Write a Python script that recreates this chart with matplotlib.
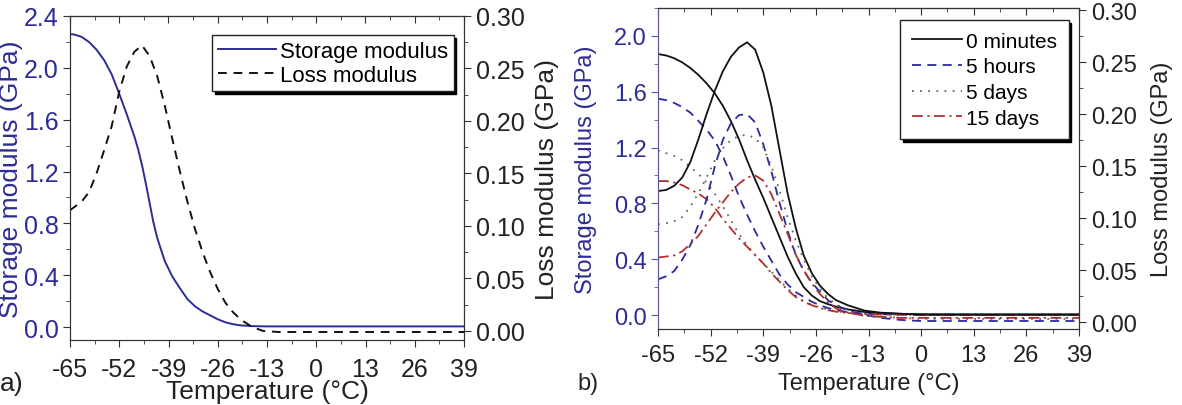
import matplotlib
matplotlib.use('Agg')
import matplotlib.pyplot as plt
from matplotlib.ticker import MultipleLocator, FormatStrFormatter

plt.rcParams['font.family'] = ['Liberation Sans', 'DejaVu Sans']
plt.rcParams['axes.unicode_minus'] = False

# ---- panel a data ----
Ta_sto = [-65, -64, -62, -60, -58, -56, -54, -52, -50, -48, -47, -46, -45, -44, -43,
          -42, -41, -40, -38, -36, -34, -32, -30, -28, -26, -24, -22, -20, -17, -13, 0,
          13, 26, 39]
storage_a = [2.26, 2.258, 2.24, 2.20, 2.14, 2.06, 1.95, 1.80, 1.64, 1.47, 1.37, 1.25,
             1.11, 0.96, 0.81, 0.69, 0.60, 0.51, 0.39, 0.30, 0.215, 0.16, 0.12, 0.09,
             0.06, 0.037, 0.022, 0.013, 0.007, 0.005, 0.005, 0.005, 0.005, 0.005]

Ta_loss = [-65, -62, -60, -58, -56, -54, -52, -50, -48, -46, -44, -42, -40, -38, -36,
           -34, -32, -30, -28, -26, -24, -22, -20, -17, -14, -10, 0, 13, 26, 39]
loss_a = [0.115, 0.123, 0.132, 0.150, 0.172, 0.195, 0.228, 0.252, 0.266, 0.272, 0.262,
          0.243, 0.215, 0.183, 0.152, 0.123, 0.097, 0.075, 0.056, 0.040, 0.027, 0.018,
          0.011, 0.004, 0.000, -0.001, -0.001, -0.001, -0.001, -0.001]

# ---- panel b data ----
Tb = [-65, -63, -61, -59, -57, -55, -53, -51, -49, -47, -45, -43, -41, -39, -37, -35,
      -33, -31, -29, -27, -25, -23, -21, -18, -14, -10, -5, 0, 13, 26, 39]
labels_b = ['0 minutes', '5 hours', '5 days', '15 days']

sto_0min = [1.87, 1.86, 1.84, 1.81, 1.77, 1.72, 1.66, 1.59, 1.50, 1.39, 1.26, 1.11, 0.97,
            0.84, 0.70, 0.56, 0.42, 0.30, 0.20, 0.14, 0.10, 0.078, 0.06, 0.04, 0.022,
            0.013, 0.008, 0.006, 0.005, 0.005, 0.005]
sto_5h = [1.55, 1.54, 1.52, 1.49, 1.45, 1.39, 1.33, 1.25, 1.14, 1.00, 0.85, 0.72, 0.60,
          0.49, 0.39, 0.29, 0.22, 0.165, 0.13, 0.095, 0.07, 0.05, 0.035, 0.02, 0.01,
          0.005, 0.003, 0.002, 0.002, 0.002, 0.002]
sto_5d = [1.18, 1.16, 1.14, 1.11, 1.06, 1.01, 0.95, 0.87, 0.78, 0.68, 0.58, 0.50, 0.43,
          0.37, 0.31, 0.25, 0.19, 0.14, 0.10, 0.075, 0.055, 0.038, 0.027, 0.015, 0.008,
          0.004, 0.002, 0.001, 0.001, 0.001, 0.001]
sto_15d = [0.96, 0.96, 0.95, 0.93, 0.90, 0.87, 0.83, 0.77, 0.69, 0.62, 0.55, 0.49, 0.43,
           0.37, 0.30, 0.24, 0.18, 0.13, 0.095, 0.07, 0.05, 0.035, 0.024, 0.014, 0.008,
           0.005, 0.003, 0.002, 0.002, 0.002, 0.002]

loss_0min = [0.126, 0.127, 0.131, 0.139, 0.154, 0.176, 0.200, 0.222, 0.241, 0.255, 0.264,
             0.269, 0.262, 0.240, 0.208, 0.166, 0.124, 0.091, 0.064, 0.047, 0.035, 0.027,
             0.021, 0.016, 0.011, 0.009, 0.008, 0.007, 0.007, 0.007, 0.007]
loss_5h = [0.041, 0.044, 0.049, 0.060, 0.074, 0.094, 0.118, 0.149, 0.175, 0.191, 0.199,
           0.200, 0.192, 0.171, 0.145, 0.115, 0.088, 0.065, 0.049, 0.038, 0.029, 0.021,
           0.016, 0.011, 0.007, 0.004, 0.002, 0.001, 0.001, 0.001, 0.001]
loss_5d = [0.094, 0.095, 0.097, 0.101, 0.111, 0.124, 0.139, 0.155, 0.167, 0.175, 0.179,
           0.180, 0.177, 0.168, 0.150, 0.127, 0.101, 0.079, 0.060, 0.044, 0.032, 0.023,
           0.017, 0.011, 0.007, 0.005, 0.004, 0.003, 0.003, 0.003, 0.003]
loss_15d = [0.062, 0.063, 0.064, 0.068, 0.075, 0.083, 0.094, 0.105, 0.115, 0.125, 0.133,
            0.139, 0.141, 0.136, 0.123, 0.104, 0.085, 0.065, 0.050, 0.037, 0.027, 0.019,
            0.013, 0.009, 0.006, 0.005, 0.004, 0.004, 0.004, 0.004, 0.004]

xticks = [-65, -52, -39, -26, -13, 0, 13, 26, 39]

BLUE = '#2c2c96'
SPINE = '#333333'

fig = plt.figure(figsize=(11.82, 4.06), dpi=100)


def style_axes(ax, ax2, tsize, left_spine, xpad):
    ax.set_xlim(-65, 39)
    ax.set_xticks(xticks)
    ax.xaxis.set_minor_locator(MultipleLocator(6.5))
    for s in ['top', 'bottom', 'right']:
        ax.spines[s].set_color(SPINE)
        ax2.spines[s].set_color(SPINE)
    ax.spines['left'].set_color(left_spine)
    ax2.spines['left'].set_color(left_spine)
    ax.tick_params(axis='x', which='both', direction='out', colors=SPINE,
                   labelcolor='#222222', labelsize=tsize, pad=xpad)
    ax.tick_params(axis='x', which='major', length=5)
    ax.tick_params(axis='x', which='minor', length=3)
    ax.tick_params(axis='y', which='both', direction='out', colors=left_spine,
                   labelcolor=BLUE, labelsize=tsize, pad=3)
    ax.tick_params(axis='y', which='major', length=5)
    ax.tick_params(axis='y', which='minor', length=3)
    ax2.tick_params(axis='y', which='both', direction='out', colors=SPINE,
                    labelcolor='#222222', labelsize=tsize, pad=4)
    ax2.tick_params(axis='y', which='major', length=5)
    ax2.tick_params(axis='y', which='minor', length=3)
    top = ax.secondary_xaxis('top')
    top.set_xticks(xticks)
    top.xaxis.set_minor_locator(MultipleLocator(6.5))
    top.tick_params(which='both', direction='in', labeltop=False, colors=SPINE)
    top.tick_params(which='major', length=5)
    top.tick_params(which='minor', length=3)
    top.spines['top'].set_color(SPINE)


# ---------------- panel a ----------------
axa = fig.add_axes([70 / 1182, 65 / 406, 394 / 1182, 324 / 406])
axa2 = axa.twinx()
la1, = axa.plot(Ta_sto, storage_a, color=BLUE, lw=1.4, label='Storage modulus')
la2, = axa2.plot(Ta_loss, loss_a, color='#111111', lw=1.4, ls=(0, (4.5, 3.5)),
                 label='Loss modulus')
axa.set_ylim(-0.1, 2.4)
axa.yaxis.set_major_locator(MultipleLocator(0.4))
axa.yaxis.set_minor_locator(MultipleLocator(0.2))
axa.yaxis.set_major_formatter(FormatStrFormatter('%.1f'))
axa2.set_ylim(-0.0086, 0.30)
axa2.yaxis.set_major_locator(MultipleLocator(0.05))
axa2.yaxis.set_minor_locator(MultipleLocator(0.025))
axa2.yaxis.set_major_formatter(FormatStrFormatter('%.2f'))
style_axes(axa, axa2, 18, SPINE, 7)
axa.set_xlabel('Temperature (°C)', fontsize=19, color='#222222', va='center')
axa.xaxis.set_label_coords(0.5, -0.157)
axa.set_ylabel('Storage modulus (GPa)', fontsize=19, color=BLUE, va='center')
axa.yaxis.set_label_coords(-0.15, 0.5)
axa2.set_ylabel('Loss modulus (GPa)', fontsize=19, color='#222222', va='center')
axa2.yaxis.set_label_coords(1.21, 0.5)
lega = axa2.legend([la1, la2], ['Storage modulus', 'Loss modulus'], loc='upper right',
                   bbox_to_anchor=(0.985, 0.955), fontsize=16, fancybox=False,
                   shadow={'color': 'black', 'alpha': 1}, framealpha=1,
                   edgecolor='#222222', handlelength=2.6, handletextpad=0.2,
                   borderpad=0.25, labelspacing=0.15, borderaxespad=0.2)
lega.get_frame().set_linewidth(1.0)
fig.text(0.0, 0.055, 'a)', fontsize=19, color='#222222', va='center', ha='left')

# ---------------- panel b ----------------
axb = fig.add_axes([658 / 1182, 76 / 406, 421 / 1182, 321 / 406])
axb2 = axb.twinx()
styles = [dict(color='#111111', ls='-'),
          dict(color='#2a2aa0', ls=(0, (5, 3.5))),
          dict(color='#5a6e50', ls=(0, (1, 3.5))),
          dict(color='#b03030', ls=(0, (6, 2.5, 1.2, 2.5)))]
sto_b = [sto_0min, sto_5h, sto_5d, sto_15d]
loss_b = [loss_0min, loss_5h, loss_5d, loss_15d]
handles = []
for lab, st, sv, lv in zip(labels_b, styles, sto_b, loss_b):
    h, = axb.plot(Tb, sv, lw=1.3, label=lab, **st)
    axb2.plot(Tb, lv, lw=1.3, **st)
    handles.append(h)
axb.set_ylim(-0.1, 2.2)
axb.yaxis.set_major_locator(MultipleLocator(0.4))
axb.yaxis.set_minor_locator(MultipleLocator(0.2))
axb.yaxis.set_major_formatter(FormatStrFormatter('%.1f'))
axb2.set_ylim(-0.0067, 0.302)
axb2.yaxis.set_major_locator(MultipleLocator(0.05))
axb2.yaxis.set_minor_locator(MultipleLocator(0.025))
axb2.yaxis.set_major_formatter(FormatStrFormatter('%.2f'))
style_axes(axb, axb2, 17, '#5a5aa8', 6)
axb.set_xlabel('Temperature (°C)', fontsize=17, color='#222222', va='center')
axb.xaxis.set_label_coords(0.5, -0.168)
axb.set_ylabel('Storage modulus (GPa)', fontsize=17, color=BLUE, va='center')
axb.yaxis.set_label_coords(-0.171, 0.5)
axb2.set_ylabel('Loss modulus (GPa)', fontsize=17, color='#222222', va='center')
axb2.yaxis.set_label_coords(1.197, 0.5)
legb = axb2.legend(handles, labels_b, loc='upper right', bbox_to_anchor=(0.985, 0.975),
                   fontsize=15, fancybox=False, shadow={'color': 'black', 'alpha': 1},
                   framealpha=1, edgecolor='#222222', handlelength=2.4,
                   handletextpad=0.2, borderpad=0.55, labelspacing=0.32,
                   borderaxespad=0.2)
legb.get_frame().set_linewidth(1.0)
fig.text(577 / 1182, 0.053, 'b)', fontsize=17, color='#222222', va='center', ha='left')

fig.savefig('out.png', dpi=100)
